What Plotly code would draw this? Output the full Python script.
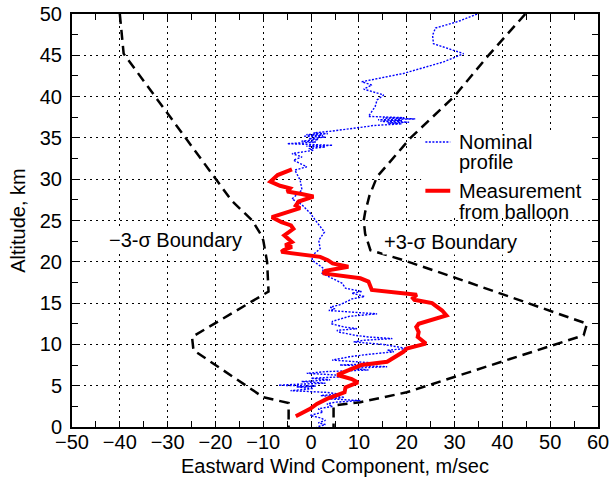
import plotly.graph_objects as go

# ---------------- data ----------------
nominal_alt = [50.0, 49.1, 48.3, 47.4, 46.4, 45.2, 44.2, 43.4, 42.8, 41.8, 41.4, 40.9, 40.2, 39.6,
               38.8, 37.6, 37.45, 37.4, 37.3, 37.2, 37.1, 37.0, 36.9, 36.8, 36.7, 36.5, 36.4,
               35.8, 35.6, 35.5, 35.4, 35.3, 35.2, 35.1, 34.9, 34.8, 34.6, 34.5, 34.3, 34.2,
               34.1, 34.0, 33.9, 33.7, 33.5, 33.1, 32.7, 32.3, 31.5, 31.1, 29.9, 28.7, 27.6,
               26.9, 25.9, 24.8, 23.6, 22.6, 21.6, 20.8, 20.2, 19.2, 18.6, 17.4, 16.8, 16.4,
               16.2, 15.8, 15.5, 15.2, 14.8, 14.5, 14.3, 14.1, 13.9, 13.7, 13.4, 13.1, 12.8,
               12.5, 12.3, 12.1, 11.9, 11.7, 11.5, 11.3, 11.1, 10.9, 10.7, 10.5, 10.3, 10.0,
               9.7, 9.5, 9.3, 9.1, 8.8, 8.5, 8.1, 7.7, 7.5, 7.3, 7.1, 6.9, 6.7, 6.5, 6.3, 6.1,
               5.9, 5.7, 5.5, 5.3, 5.15, 5.05, 4.95, 4.85, 4.65, 4.5, 4.4, 4.2, 4.0, 3.8, 3.6,
               3.4, 3.2, 3.0, 2.8, 2.5, 2.2, 1.8, 1.4, 1.1, 0.8, 0.5, 0.3, 0.0]
nominal_wind = [34.7, 30.8, 26.0, 25.4, 25.6, 31.9, 27.7, 22.8, 19.3, 10.6, 12.7, 11.0, 15.2, 13.8,
                13.4, 12.0, 19.5, 15.0, 21.8, 14.0, 19.0, 14.5, 20.5, 16.0, 19.0, 13.0, 12.0,
                4.0, 0.5, 3.5, -1.0, 2.5, -1.6, 3.0, -0.5, 1.5, -2.0, 1.0, -5.0, 0.0,
                4.5, -1.0, 3.0, -0.5, 0.5, -4.0, -1.9, -3.7, -0.9, -3.4, -2.3, -1.9, -4.0,
                -1.9, -0.2, 1.2, 2.8, 1.6, 1.9, 0.3, 0.2, 2.6, 2.3, 6.5, 7.2, 10.6,
                8.5, 11.2, 8.5, 7.5, 6.0, 4.0, 5.0, 3.7, 9.0, 13.8, 8.0, 6.0, 4.5,
                4.2, 5.5, 7.0, 9.6, 5.4, 5.8, 7.5, 9.2, 12.0, 17.0, 11.0, 8.9, 15.0,
                18.0, 20.1, 16.0, 17.3, 12.0, 8.0, 4.4, 14.5, 6.0, 15.9, 8.0, 12.0, 3.0, -0.9, 5.0, 7.5,
                0.0, 4.0, -2.0, 3.0, -4.0, -6.8, 1.0, -3.0, 0.5, -2.0, -4.3, 3.0, 6.0, 2.0, 7.0,
                4.0, 10.3, 5.0, 3.3, 4.5, 1.5, 2.5, -0.2, 2.0, 3.0, 1.5, 3.0, 1.2]

meas_alt = [31.2, 30.9, 30.5, 29.7, 29.2, 28.9, 28.5, 28.2, 27.9, 27.3, 26.8, 26.5, 25.9, 25.4,
            24.8, 24.4, 24.0, 23.6, 23.2, 22.8, 22.4, 22.0, 21.8, 21.4, 21.2, 20.6, 20.2, 19.8,
            19.4, 18.9, 18.6, 18.0, 17.6, 16.6, 16.3, 16.0, 15.6, 15.4, 15.0, 14.5, 14.1, 13.5,
            12.9, 12.5, 12.1, 11.5, 10.9, 10.1, 9.5, 9.1, 7.9, 7.5, 6.8, 6.3, 5.8, 5.4, 4.8,
            4.2, 3.4, 2.8, 2.2, 1.4, 1.3]
meas_wind = [-4.0, -5.4, -7.0, -8.5, -6.5, -4.4, -5.0, -2.0, 0.5, -2.6, -3.2, -2.3, -5.5, -8.2,
             -6.2, -4.2, -3.7, -4.6, -5.6, -4.8, -4.0, -5.4, -4.0, -5.8, -6.2, 1.9, 3.5, 4.5,
             7.8, 3.0, 2.5, 10.3, 12.0, 12.7, 17.0, 22.1, 21.3, 21.6, 25.3, 26.6, 27.4, 28.3,
             24.6, 22.5, 22.0, 22.5, 22.3, 24.0, 20.0, 19.3, 15.9, 10.5, 7.5, 5.5, 8.5, 9.8, 7.2,
             7.0, 3.3, 1.2, -0.2, -2.9, -3.2]

minus3_alt = [50.0, 45.2, 40.0, 35.0, 30.0, 27.4, 25.0, 23.4, 22.6, 20.0, 16.4, 10.9, 9.3, 3.6, 2.9, 0.0]
minus3_wind = [-40.0, -39.2, -32.6, -26.2, -19.9, -16.6, -12.3, -10.6, -10.0, -9.2, -8.9, -24.9, -24.6, -10.0, -4.7, -4.7]

plus3_alt = [50.0, 45.0, 40.0, 35.0, 30.3, 28.0, 26.0, 25.0, 23.4, 21.4, 20.2, 18.0, 12.5, 11.1, 4.2, 3.0, 2.6, 0.0]
plus3_wind = [44.8, 37.1, 29.9, 20.8, 13.8, 12.2, 11.3, 11.0, 11.3, 12.4, 19.3, 30.5, 57.7, 57.0, 20.0, 10.3, 4.7, 4.7]

x_title = "Eastward Wind Component, m/sec"
y_title = "Altitude, km"
label_minus = "\u22123-\u03c3 Boundary"
label_plus = "+3-\u03c3 Boundary"
legend_nominal = ["Nominal", "profile"]
legend_meas = ["Measurement", "from balloon"]

FONT = "Liberation Sans, Arial, Helvetica, sans-serif"
FS = 20

fig = go.Figure()
dash_style = dict(color="black", width=2.5, dash="10px,6px")
fig.add_trace(go.Scatter(x=minus3_wind, y=minus3_alt, mode="lines", line=dash_style,
                         hoverinfo="skip", showlegend=False))
fig.add_trace(go.Scatter(x=plus3_wind, y=plus3_alt, mode="lines", line=dash_style,
                         hoverinfo="skip", showlegend=False))
fig.add_trace(go.Scatter(x=nominal_wind, y=nominal_alt, mode="lines",
                         line=dict(color="#0000ff", width=1.4, dash="2px,1.5px"),
                         hoverinfo="skip", showlegend=False))
fig.add_trace(go.Scatter(x=meas_wind, y=meas_alt, mode="lines",
                         line=dict(color="#ff0000", width=4),
                         hoverinfo="skip", showlegend=False))

axis_common = dict(
    showline=True, linecolor="black", linewidth=2, mirror="ticks",
    ticks="inside", ticklen=6, tickwidth=1, tickcolor="black",
    showgrid=True, gridcolor="black", gridwidth=1, griddash="2px,4px",
    zeroline=False, tickfont=dict(family=FONT, size=FS, color="black"),
    automargin=False,
)
fig.update_xaxes(range=[-50, 60], tick0=-50, dtick=10, ticklabelstandoff=-4,
                 minor=dict(dtick=5, ticks="inside", ticklen=6, tickcolor="black", showgrid=False),
                 **axis_common)
fig.update_yaxes(range=[0, 50], tick0=0, dtick=5, ticklabelstandoff=4,
                 minor=dict(dtick=2.5, ticks="inside", ticklen=6, tickcolor="black", showgrid=False),
                 **axis_common)

# white box behind the legend (covers grid only)
fig.add_shape(type="rect", xref="x", yref="y", x0=23.0, x1=60, y0=25.3, y1=35.8,
              fillcolor="white", line=dict(width=0), layer="between")
# legend samples
fig.add_shape(type="line", xref="x", yref="y", x0=23.9, x1=29.1, y0=34.5, y1=34.5,
              line=dict(color="#0000ff", width=1.4, dash="2px,1.5px"))
fig.add_shape(type="line", xref="x", yref="y", x0=23.9, x1=29.1, y0=28.6, y1=28.6,
              line=dict(color="#ff0000", width=4))

annots = []
tf = dict(family=FONT, size=FS, color="black")
for txt, yy in zip(legend_nominal + legend_meas, [34.5, 32.1, 28.6, 26.0]):
    annots.append(dict(x=30.6, y=yy, xref="x", yref="y", text=txt, showarrow=False,
                       xanchor="left", yanchor="middle", font=tf))
annots.append(dict(x=-28.4, y=22.6, xref="x", yref="y", text=label_minus, showarrow=False,
                   xanchor="center", yanchor="middle", font=tf, bgcolor="white", borderpad=1))
annots.append(dict(x=29.1, y=22.4, xref="x", yref="y", text=label_plus, showarrow=False,
                   xanchor="center", yanchor="middle", font=tf, bgcolor="white", borderpad=1))
annots.append(dict(x=0.5, y=-0.094, xref="paper", yref="paper", text=x_title, showarrow=False,
                   xanchor="center", yanchor="middle", font=tf))
annots.append(dict(x=-0.104, y=0.5, xref="paper", yref="paper", text=y_title, showarrow=False,
                   xanchor="center", yanchor="middle", font=tf, textangle=-90))

fig.update_layout(
    width=610, height=480,
    margin=dict(l=72, r=12, t=14, b=53, autoexpand=False),
    paper_bgcolor="white", plot_bgcolor="white",
    showlegend=False,
    annotations=annots,
    font=dict(family=FONT, size=FS, color="black"),
)

fig.write_html("out.html", config={"displayModeBar": False},
               post_script="document.body.style.margin='0px';document.body.style.padding='0px';")
